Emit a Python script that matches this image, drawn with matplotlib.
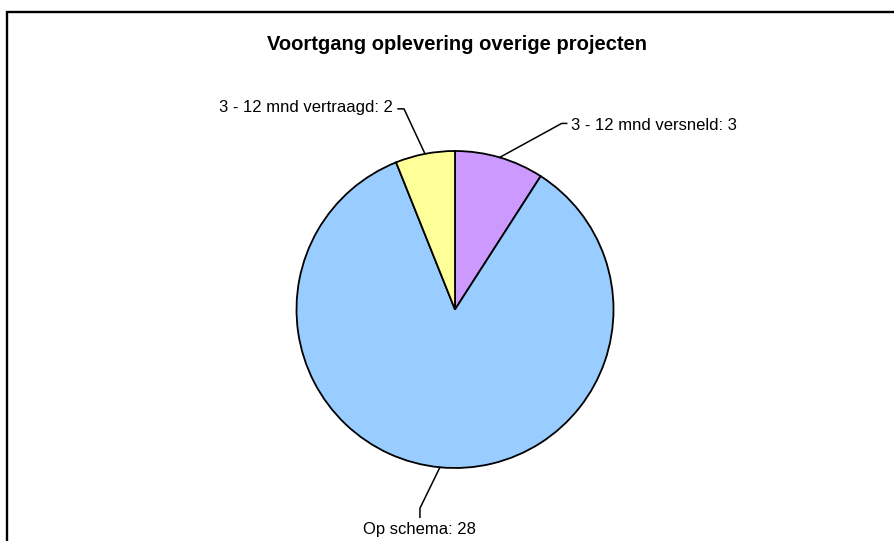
import numpy as np
import matplotlib.pyplot as plt
from matplotlib.patches import Rectangle

plt.rcParams['font.family'] = ['Liberation Sans', 'DejaVu Sans']

# Data of the chart
labels = ['3 - 12 mnd versneld', 'Op schema', '3 - 12 mnd vertraagd']
values = [3, 28, 2]
colors = ['#CC99FF', '#99CCFF', '#FFFF99']

W, H = 894, 541   # canvas in pixels
fig = plt.figure(figsize=(W / 100, H / 100), dpi=100)
ax = fig.add_axes([0, 0, 1, 1])

center = (455, H - 309.5)
radius = 158.5
wedges, _ = ax.pie(values, colors=colors, startangle=90, counterclock=False,
                   center=center, radius=radius, frame=True,
                   wedgeprops=dict(edgecolor='black', linewidth=1.3))
ax.set_xlim(0, W)
ax.set_ylim(0, H)
ax.axis('off')

# Frame round the chart (runs off the right and bottom of the picture)
ax.add_patch(Rectangle((7, -20), W + 20, H - 12 + 20, fill=False,
                       edgecolor='black', linewidth=1.7, clip_on=False))

ax.text(457, H - 45, 'Voortgang oplevering overige projecten', ha='center', va='center',
        fontsize=14.5, fontweight='bold')

# Leader lines: elbow and end offsets from the wedge edge (pixels), text position and alignment
# (same order as the wedges: versneld, op schema, vertraagd)
leaders = [
    ((62, 34), (67, 34), (71, 32), 'left', 'center'),
    ((-20, -41), (-20, -50), (-20, -55), 'center', 'top'),
    ((-21, 45), (-27, 45), (-32, 46), 'right', 'center'),
]

for w, lab, val, (elb, end, txt, ha, va) in zip(wedges, labels, values, leaders):
    mid = np.deg2rad((w.theta1 + w.theta2) / 2)
    ex = center[0] + radius * np.cos(mid)
    ey = center[1] + radius * np.sin(mid)
    ax.plot([ex, ex + elb[0], ex + end[0]], [ey, ey + elb[1], ey + end[1]],
            color='black', linewidth=1.1)
    ax.text(ex + txt[0], ey + txt[1], f'{lab}: {val}', ha=ha, va=va, fontsize=12)

fig.savefig('out.png', dpi=100, facecolor='white')
